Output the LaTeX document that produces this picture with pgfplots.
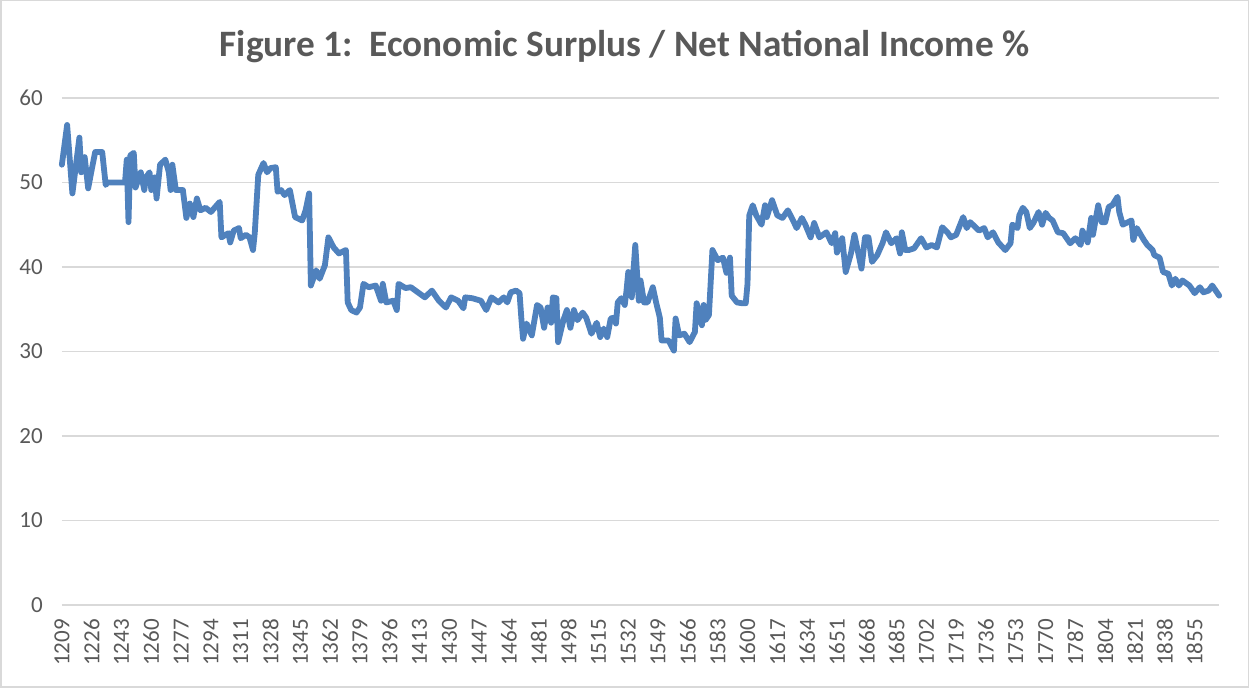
\documentclass[border=0pt]{standalone}
\usepackage{fontspec}
\setmainfont{Carlito}
\usepackage{pgfplots}
\pgfplotsset{compat=1.18}
\definecolor{linecol}{RGB}{79,129,189}
\definecolor{gridcol}{RGB}{217,217,217}
\definecolor{txtcol}{RGB}{89,89,89}

\pgfplotstableread{
year val
1209 52.1
1212 56.8
1215 48.7
1219 55.3
1220 51.2
1222 53.0
1224 49.3
1226 51.5
1228 53.6
1232 53.6
1234 49.7
1235 50.0
1245 50.0
1246 52.7
1247 45.3
1248 53.2
1250 53.5
1251 49.4
1254 51.2
1256 49.1
1257 50.6
1259 51.2
1260 49.1
1262 50.6
1263 48.1
1265 52.1
1268 52.7
1270 51.2
1271 49.1
1272 52.1
1274 49.1
1278 49.1
1280 45.8
1282 47.5
1284 45.9
1286 48.1
1288 46.7
1291 47.0
1294 46.5
1299 47.7
1300 43.5
1304 44.0
1305 42.9
1307 44.3
1310 44.6
1311 43.4
1314 43.8
1316 43.5
1318 42.0
1319 44.0
1321 50.9
1324 52.3
1326 51.2
1328 51.7
1331 51.8
1332 48.9
1334 49.1
1336 48.5
1339 49.1
1342 45.9
1346 45.5
1348 46.7
1350 48.7
1351 37.8
1354 39.6
1356 38.6
1359 40.2
1361 43.5
1364 42.3
1367 41.6
1371 42.0
1372 35.8
1374 34.9
1377 34.6
1379 35.2
1381 38.0
1384 37.6
1388 37.8
1391 36.0
1392 38.0
1394 35.8
1398 36.0
1400 34.9
1401 38.0
1405 37.5
1408 37.6
1412 37.0
1416 36.4
1420 37.2
1424 36.0
1428 35.2
1431 36.4
1435 36.0
1438 35.1
1439 36.4
1443 36.3
1448 36.0
1451 34.9
1454 36.4
1458 35.8
1461 36.4
1463 35.8
1465 37.0
1468 37.2
1470 36.9
1471 34.0
1472 31.5
1474 33.3
1477 31.9
1480 35.5
1482 35.2
1484 32.8
1486 35.2
1488 33.4
1489 36.4
1491 36.3
1492 31.1
1495 33.7
1497 34.9
1499 32.8
1501 34.9
1503 33.7
1506 34.6
1508 34.0
1511 32.1
1514 33.4
1516 31.7
1518 32.7
1520 31.7
1522 33.9
1524 34.0
1525 33.3
1526 35.8
1528 36.3
1530 35.5
1531 37.2
1532 39.4
1534 36.4
1535 39.6
1536 42.6
1538 36.0
1539 38.4
1541 35.8
1543 35.8
1546 37.6
1548 35.7
1550 34.0
1551 31.3
1555 31.3
1558 30.1
1559 33.9
1561 31.9
1564 32.1
1567 31.1
1570 32.3
1571 35.7
1574 33.1
1575 35.5
1576 33.7
1578 34.3
1580 42.0
1583 40.8
1586 41.1
1588 39.3
1590 41.1
1591 36.6
1594 35.8
1597 35.7
1599 35.7
1600 38.0
1601 46.1
1603 47.3
1605 46.1
1608 45.0
1610 47.3
1611 45.9
1614 47.9
1615 47.3
1617 46.1
1620 45.8
1623 46.7
1626 45.5
1628 44.6
1631 45.8
1633 45.0
1636 43.5
1638 45.2
1641 43.5
1645 44.1
1648 42.8
1650 44.0
1651 41.7
1654 43.4
1656 39.4
1659 41.6
1661 43.8
1665 39.8
1667 43.5
1669 43.5
1671 40.6
1674 41.4
1677 42.8
1679 44.1
1682 42.8
1685 43.4
1687 41.6
1688 44.1
1690 42.0
1692 42.0
1695 42.2
1699 43.4
1702 42.3
1705 42.6
1708 42.3
1711 44.7
1714 44.1
1716 43.5
1719 43.8
1723 45.9
1725 44.6
1727 45.3
1730 44.7
1732 44.3
1735 44.6
1737 43.5
1740 44.1
1743 42.9
1747 42.0
1750 42.8
1751 45.0
1754 44.6
1755 46.1
1757 47.0
1759 46.5
1761 44.6
1763 45.2
1766 46.5
1768 45.0
1770 46.4
1772 45.8
1774 45.5
1777 44.1
1780 44.0
1784 42.8
1787 43.4
1790 42.6
1791 44.3
1794 42.9
1796 45.8
1797 43.8
1800 47.3
1802 45.3
1804 45.3
1806 47.1
1808 47.3
1811 48.3
1812 46.5
1814 45.0
1816 45.2
1819 45.5
1820 43.2
1822 44.6
1826 43.2
1828 42.6
1831 42.0
1832 41.4
1835 41.1
1837 39.4
1840 39.2
1842 37.8
1844 38.6
1846 37.8
1848 38.4
1852 37.8
1855 36.9
1858 37.6
1860 37.0
1863 37.2
1865 37.8
1869 36.6
}\surplus

\begin{document}
\begin{tikzpicture}
\begin{axis}[
    name=ax,
    scale only axis,
    width=577.5pt, height=253pt,
    xmin=1209, xmax=1869,
    ymin=0, ymax=60,
    xtick={1209,1226,...,1855},
    ytick={0,10,...,60},
    ymajorgrids,
    grid style={draw=gridcol, line width=0.75pt},
    axis line style={draw=none},
    major tick length=0pt,
    clip=false,
    /pgf/number format/assume math mode=true,
    /pgf/number format/1000 sep={},
    xticklabel style={rotate=90, anchor=east, text=txtcol, font=\fontsize{11.5}{13}\selectfont, xshift=-3.5pt},
    yticklabel style={text=txtcol, font=\fontsize{11.5}{13}\selectfont, xshift=-6pt},
]
\addplot[draw=linecol, line width=2.9pt, line join=round, line cap=round] table[x=year, y=val] {\surplus};
\end{axis}
\node[font=\fontsize{18.6}{22}\selectfont\bfseries, text=txtcol] at ([xshift=-8pt, yshift=25.5pt]ax.north) {Figure 1:\ \ Economic Surplus / Net National Income \%};
\draw[gridcol, line width=0.75pt] ([xshift=-30.5pt, yshift=-41pt]ax.south west) rectangle ([xshift=14.5pt, yshift=48.5pt]ax.north east);
\end{tikzpicture}
\end{document}
